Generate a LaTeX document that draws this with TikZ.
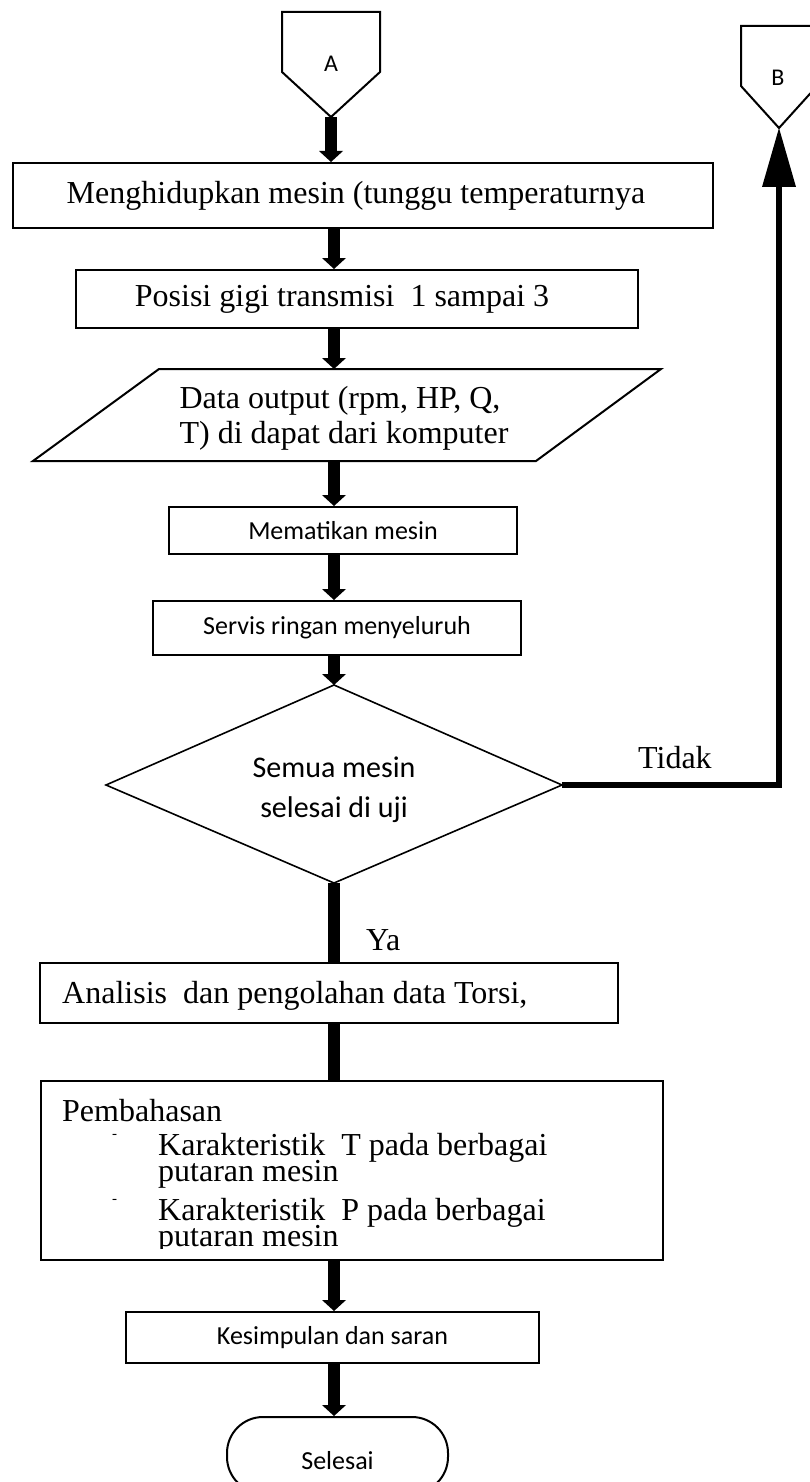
\documentclass[tikz,border=0pt]{standalone}
\usepackage{fontspec}
\setmainfont{Liberation Serif}
\newfontfamily\calfont{Carlito}
\usetikzlibrary{arrows.meta,shapes.geometric}
\tikzset{
  box/.style={draw, line width=2pt, inner sep=0pt, anchor=north west},
  serif/.style={font=\fontsize{32}{35}\selectfont},
  sans/.style={font=\calfont\fontsize{26}{30}\selectfont},
  bigsans/.style={font=\calfont\fontsize{30}{40}\selectfont},
  flow/.style={line width=12pt, -{Triangle[width=24pt,length=11pt,line width=0pt]}},
  thickline/.style={line width=12pt},
  backline/.style={line width=6pt, line join=miter, -{Triangle[width=34pt,length=59pt,line width=0pt]}},
  shapeline/.style={draw, line width=2pt, line join=miter},
  txt/.style={inner sep=0pt, anchor=base west},
}
\newcommand{\bulletdash}{\makebox[96pt][l]{\hspace*{50pt}\raisebox{17pt}{\fontsize{15}{15}\selectfont -}}}
\begin{document}
\begin{tikzpicture}[x=1pt,y=-1pt]
\useasboundingbox (0,0) rectangle (809,1482);
\fill[white] (0,0) rectangle (809,1482);
\coordinate (cx) at (334,0);
% connector A
\draw[shapeline] (282,12) -- (380,12) -- (380,72) -- (331,117) coordinate (aTip) -- (282,72) -- cycle;
\node[font=\calfont\fontsize{24}{28}\selectfont] (aLab) at (331,64) {A};
% connector B
\draw[shapeline] (741,26) -- (817,26) -- (817,86) -- (779,128) coordinate (bTip) -- (741,86) -- cycle;
\node[font=\calfont\fontsize{24}{28}\selectfont] (bLab) at (778,78) {B};
% boxes
\node[box, serif, minimum width=700pt, minimum height=65pt] (b1) at (12,162) {Menghidupkan mesin (tunggu temperaturnya\hspace*{14pt}};
\node[box, serif, minimum width=562pt, minimum height=58pt] (b2) at (75,269) {Posisi gigi transmisi\ \ 1 sampai 3\hspace*{30pt}};
% parallelogram
\draw[shapeline] (159,369) -- (661,369) -- (536,461) -- (33,461) -- cycle;
\coordinate (pT) at (334,369);
\coordinate (pB) at (334,461);
\node[serif, align=left, inner sep=0pt] (para) at (344,418) {Data output (rpm, HP, Q,\\T) di dapat dari komputer};
\node[box, sans, minimum width=348pt, minimum height=47pt] (b3) at (168,506) {Mematikan mesin};
\node[box, sans, minimum width=368pt, minimum height=54pt] (b4) at (152,600) {Servis ringan menyeluruh};
% decision
\draw[line width=1.6pt, line join=miter] (334,685) coordinate (dT) -- (562,785) coordinate (dR) -- (334,883) coordinate (dB) -- (106,785) coordinate (dL) -- cycle;
\node[bigsans, align=center, inner sep=0pt] (dia) at (334,790) {Semua mesin\\selesai di uji};
\node[serif, txt] (tidak) at (638,768) {Tidak};
\node[serif, txt] (ya) at (366,950) {Ya};
\node[box, minimum width=578pt, minimum height=60pt] (b5) at (39,962) {};
\node[serif, txt] (t5) at (62,1003) {Analisis\ \ dan pengolahan data Torsi,};
\node[box, minimum width=622pt, minimum height=179pt] (b6) at (40,1080) {};
\begin{scope}
\clip (40,1080) rectangle (662,1248);
\node[serif, txt] (t6) at (62,1121) {\vtop{\baselineskip=26pt\lineskiplimit=-100pt\lineskip=0pt
\hbox{Pembahasan}\vskip 8pt
\hbox{\bulletdash Karakteristik\ \ T pada berbagai}
\hbox{\hspace*{96pt}putaran mesin}\vskip 13pt
\hbox{\bulletdash Karakteristik\ \ P pada berbagai}
\hbox{\hspace*{96pt}putaran mesin}}};
\end{scope}
\node[box, sans, minimum width=413pt, minimum height=51pt] (b7) at (125,1311) {Kesimpulan dan saran};
\node[draw, line width=2pt, rounded corners=36pt, minimum width=221pt, minimum height=76pt, inner sep=0pt, anchor=north, font=\calfont\fontsize{26}{30}\selectfont, text depth=0pt] (end) at (337.5,1416) {\raisebox{-10pt}{Selesai}};
% connectors
\draw[flow] (aTip) -- (aTip |- b1.north);
\draw[flow] (b1.south -| cx) -- (b2.north -| cx);
\draw[flow] (b2.south -| cx) -- (pT);
\draw[flow] (pB) -- (b3.north -| cx);
\draw[flow] (b3.south -| cx) -- (b4.north -| cx);
\draw[flow] (b4.south -| cx) -- (dT);
\draw[thickline] (dB) -- (b5.north -| cx);
\draw[thickline] (b5.south -| cx) -- (b6.north -| cx);
\draw[flow] (b6.south -| cx) -- (b7.north -| cx);
\draw[flow] (b7.south -| cx) -- (end.north -| cx);
\draw[backline] (dR) -- (bTip |- dR) -- (bTip);
\end{tikzpicture}
\end{document}
